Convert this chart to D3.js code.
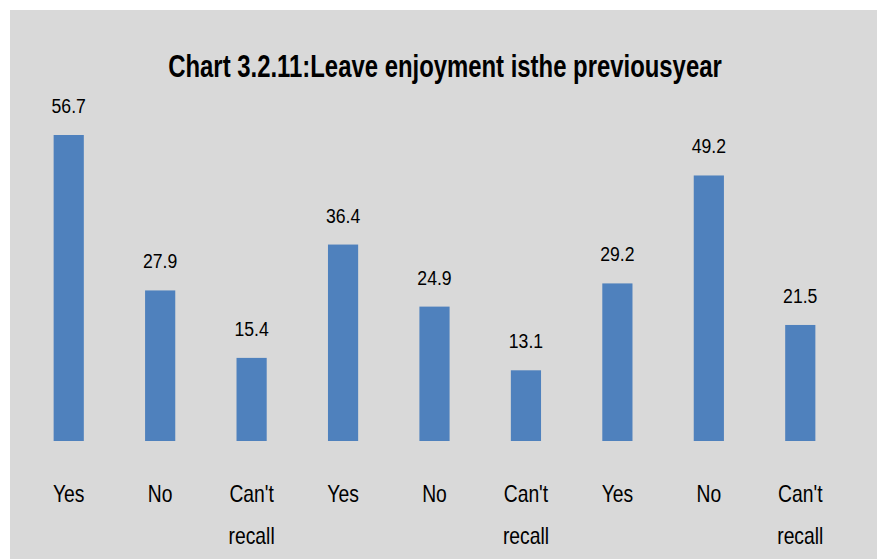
<!DOCTYPE html>
<html>
<head>
<meta charset="utf-8">
<script src="https://cdn.jsdelivr.net/npm/d3@7"></script>
<style>
  html, body { margin: 0; padding: 0; background: #ffffff; }
  svg { display: block; }
  text { font-family: "Liberation Sans Narrow", "Arial Narrow", "Liberation Sans", sans-serif; fill: #000; }
</style>
</head>
<body>
<script>
// Leave enjoyment in the previous year, three response groups
const categories = ["Yes", "No", "Can't recall", "Yes", "No", "Can't recall", "Yes", "No", "Can't recall"];
const values = [56.7, 27.9, 15.4, 36.4, 24.9, 13.1, 29.2, 49.2, 21.5];
const valueLabels = ["56.7", "27.9", "15.4", "36.4", "24.9", "13.1", "29.2", "49.2", "21.5"];
const title = "Chart 3.2.11:Leave enjoyment isthe previousyear";

const W = 877, H = 559;
const NARROW = 0.84; // horizontal squeeze for a condensed look
const svg = d3.select("body").append("svg").attr("width", W).attr("height", H);

// chart area
svg.append("rect").attr("x", 10).attr("y", 10).attr("width", W - 10).attr("height", H - 10)
  .attr("fill", "#d9d9d9");

// title, squeezed horizontally to a condensed width
const titleText = svg.append("text")
  .attr("text-anchor", "middle")
  .attr("font-size", 31).attr("font-weight", "bold")
  .text(title);
const natural = titleText.node().getComputedTextLength();
const titleScale = Math.min(1, 554 / natural);
titleText.attr("transform", `translate(445,77) scale(${titleScale},1)`);

const x = d3.scaleBand()
  .domain(d3.range(categories.length))
  .range([23, 846])
  .paddingInner(0.67).paddingOuter(0.335);

const y = d3.scaleLinear().domain([0, 56.7]).range([441, 135]);

svg.append("g").selectAll("rect").data(values).join("rect")
  .attr("x", (d, i) => x(i))
  .attr("y", d => y(d))
  .attr("width", x.bandwidth())
  .attr("height", d => y(0) - y(d))
  .attr("fill", "#4f81bd");

svg.append("g").selectAll("text").data(values).join("text")
  .attr("transform", (d, i) => `translate(${x(i) + x.bandwidth() / 2},${y(d) - 22}) scale(${NARROW},1)`)
  .attr("text-anchor", "middle")
  .attr("font-size", 21)
  .text((d, i) => valueLabels[i]);

// category axis labels, wrapped onto two lines where needed
const catG = svg.append("g").selectAll("text").data(categories).join("text")
  .attr("transform", (d, i) => `translate(${x(i) + x.bandwidth() / 2},502) scale(${NARROW},1)`)
  .attr("text-anchor", "middle")
  .attr("font-size", 23);
catG.each(function(d) {
  const t = d3.select(this);
  d.split(" ").forEach((w, j) => {
    t.append("tspan").attr("x", 0).attr("y", j * 42).text(w);
  });
});
</script>
</body>
</html>
